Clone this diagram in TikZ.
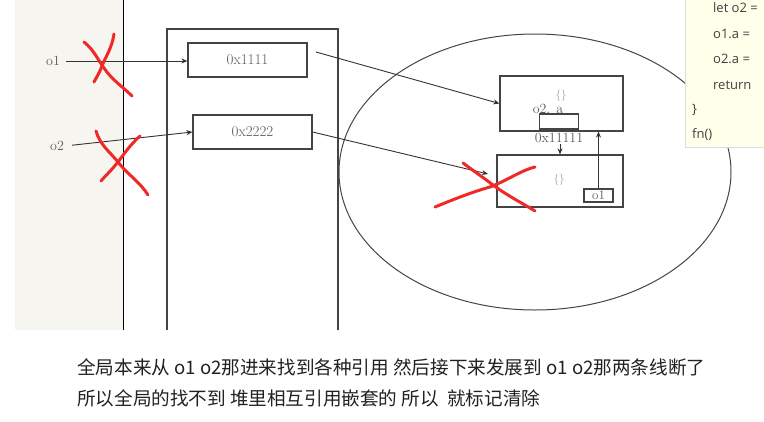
\documentclass[tikz,border=0pt]{standalone}
\usepackage{fontspec}
\usepackage{tikz}
\usetikzlibrary{arrows.meta}
\newfontfamily\cjk{Noto Sans CJK SC}
\newfontfamily\codefont{Open Sans}
\definecolor{panelbg}{HTML}{F7F5EF}
\definecolor{codebg}{HTML}{FFFFEA}
\definecolor{codeedge}{HTML}{D8DCE6}
\definecolor{boxline}{HTML}{444444}
\definecolor{labeltext}{HTML}{5A5A5A}
\definecolor{marker}{HTML}{F02828}
\tikzset{
  memcell/.style={draw=boxline, line width=1.2pt, rectangle, inner sep=0pt, text=labeltext, font=\fontsize{15}{15}\selectfont},
  varname/.style={text=labeltext, inner sep=1pt, font=\fontsize{14}{14}\selectfont},
  emptyobj/.style={text=black!40, inner sep=0pt, font=\fontsize{11}{11}\selectfont},
  pointer/.style={-{Stealth[length=6pt,width=5pt]}, draw=black!80, line width=0.9pt},
  scratch/.style={draw=marker, line width=3pt, line cap=round},
  codeline/.style={anchor=west, inner sep=0pt, text=black!75, font=\codefont\fontsize{13}{13}\selectfont},
  noteline/.style={anchor=west, inner sep=0pt, text=black!87, font=\cjk\fontsize{18.6}{18.6}\selectfont}
}

\begin{document}
\begin{tikzpicture}[x=1pt,y=-1pt]
\useasboundingbox (0,0) rectangle (764,421);
\fill[panelbg] (15,0) rectangle (123,330);
\draw[black, line width=1pt] (123,0) -- (123,330);
\draw[boxline, line width=1.2pt] (167,330) |- (338,29) -- (338,330);
\draw[boxline, line width=1pt] (535,172) ellipse [x radius=196pt, y radius=138pt];

\node[varname] (o1) at (53,61) {o1};
\node[varname] (o2) at (57,146) {o2};
\node[memcell, minimum width=119pt, minimum height=34pt] (addr1) at (247.5,60) {0x1111};
\node[memcell, minimum width=119pt, minimum height=34pt] (addr2) at (252.5,132) {0x2222};
\node[memcell, minimum width=123pt, minimum height=55pt] (objA) at (561.5,103.5) {};
\node[memcell, minimum width=126pt, minimum height=52pt] (objB) at (560,181) {};
\node[emptyobj] (braceA) at (561,96) {\{\}};
\node[emptyobj] (braceB) at (559,180) {\{\}};
\node[memcell, minimum width=39pt, minimum height=15pt] (slotA) at (559,121.5) {};
\node[varname] (fieldA) at (548,109) {o2. a};
\node[varname] (valA) at (559,138) {0x11111};
\node[memcell, minimum width=29pt, minimum height=13pt, font=\fontsize{13}{13}\selectfont] (slotB) at (598.5,195.5) {o1};

\draw[pointer, shorten <=5pt] (o1.east) -- (o1.east -| addr1.west);
\draw[pointer, shorten <=7pt] (o2.east) -- (addr2.west);
\coordinate (tail1) at (316,52);
\draw[pointer] (tail1) -- (objA.west);
\coordinate (head2) at (488,174);
\draw[pointer] (addr2.east) -- (head2);
\draw[pointer] (valA.south -| objB.north) -- (objB.north);
\draw[pointer] (slotB.north) -- (slotB.north |- objA.south);

\draw[scratch] (84,42) .. controls (94,50) and (98,60) .. (104,68) .. controls (112,80) and (122,86) .. (132,96);
\draw[scratch] (114,34) .. controls (112,48) and (105,58) .. (102,66) .. controls (99,74) and (96,78) .. (94,82);
\draw[scratch] (96,131) .. controls (100,145) and (110,152) .. (118,162) .. controls (128,175) and (140,182) .. (148,195);
\draw[scratch] (140,136) .. controls (130,145) and (124,154) .. (118,162) .. controls (110,172) and (105,176) .. (101,181);
\draw[scratch] (435,207) .. controls (452,200) and (472,192) .. (490,187) .. controls (508,180) and (522,170) .. (535,167);
\draw[scratch] (463,163) .. controls (475,172) and (484,178) .. (493,185) .. controls (508,196) and (522,203) .. (535,211);

\draw[fill=codebg, draw=codeedge, line width=1pt] (685,-2) rectangle (770,147);
\node[codeline] (code1) at (713,8) {let o2 =};
\node[codeline] (code2) at (713,34) {o1.a =};
\node[codeline] (code3) at (713,59) {o2.a =};
\node[codeline] (code4) at (713,85) {return};
\node[codeline] (code5) at (692,110) {\}};
\node[codeline] (code6) at (692,135) {fn()};

\node[noteline] (note1) at (77,367) {全局本来从 o1 o2那进来找到各种引用 然后接下来发展到 o1 o2那两条线断了};
\node[noteline] (note2) at (77,398) {所以全局的找不到 堆里相互引用嵌套的 所以\ \ 就标记清除};
\end{tikzpicture}
\end{document}
